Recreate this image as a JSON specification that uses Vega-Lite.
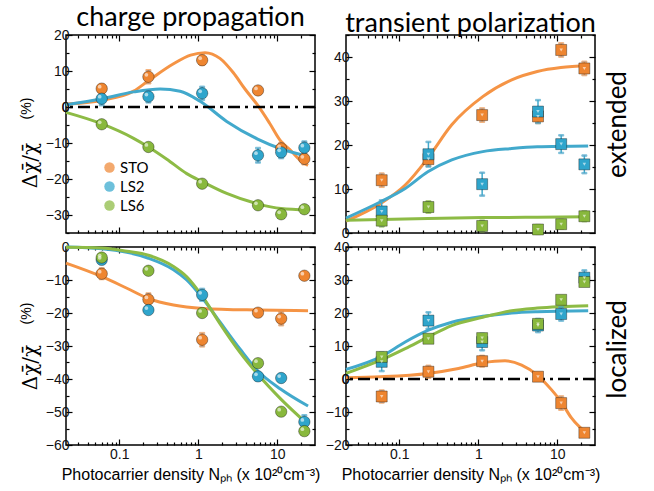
{
  "$schema": "https://vega.github.io/schema/vega-lite/v6.json",
  "background": "white",
  "padding": {"left": 18, "top": 3, "right": 5, "bottom": 3},
  "config": {
    "view": {"stroke": "black", "strokeWidth": 1.5},
    "axis": {"domain": false, "grid": false, "tickColor": "black", "tickWidth": 1.2, "labelFont": "Liberation Sans", "labelFontSize": 14, "labelColor": "#111", "labelPadding": 3, "titleColor": "black", "titleFontWeight": "normal", "labelOverlap": false, "labelFlush": false}
  },
  "datasets": {
    "zero": [{"y": 0}],
    "pts": [
      {"p": "a", "s": "STO", "x": 0.06, "y": 5.1, "e": 1.2},
      {"p": "a", "s": "STO", "x": 0.234, "y": 8.4, "e": 1.8},
      {"p": "a", "s": "STO", "x": 1.12, "y": 13.0, "e": 1.3},
      {"p": "a", "s": "STO", "x": 5.7, "y": 4.6, "e": 0.8},
      {"p": "a", "s": "STO", "x": 11.2, "y": -11.5, "e": 1.5},
      {"p": "a", "s": "STO", "x": 22, "y": -14.4, "e": 1.5},
      {"p": "a", "s": "LS2", "x": 0.06, "y": 2.3, "e": 1.8},
      {"p": "a", "s": "LS2", "x": 0.234, "y": 2.9, "e": 1.6},
      {"p": "a", "s": "LS2", "x": 1.12, "y": 3.8, "e": 1.8},
      {"p": "a", "s": "LS2", "x": 5.7, "y": -13.4, "e": 2.0},
      {"p": "a", "s": "LS2", "x": 11.2, "y": -12.6, "e": 1.6},
      {"p": "a", "s": "LS2", "x": 22, "y": -11.3, "e": 1.7},
      {"p": "a", "s": "LS6", "x": 0.06, "y": -4.8, "e": 0.6},
      {"p": "a", "s": "LS6", "x": 0.234, "y": -11.1, "e": 0.6},
      {"p": "a", "s": "LS6", "x": 1.12, "y": -21.3, "e": 0.6},
      {"p": "a", "s": "LS6", "x": 5.7, "y": -27.3, "e": 0.6},
      {"p": "a", "s": "LS6", "x": 11.2, "y": -29.8, "e": 0.6},
      {"p": "a", "s": "LS6", "x": 22, "y": -28.4, "e": 0.6},
      {"p": "b", "s": "STO", "x": 0.06, "y": 12.0, "e": 1.5},
      {"p": "b", "s": "STO", "x": 0.234, "y": 16.8, "e": 1.5},
      {"p": "b", "s": "STO", "x": 1.12, "y": 26.8, "e": 1.5},
      {"p": "b", "s": "STO", "x": 5.7, "y": 26.5, "e": 1.5},
      {"p": "b", "s": "STO", "x": 11.2, "y": 41.6, "e": 1.5},
      {"p": "b", "s": "STO", "x": 22, "y": 37.4, "e": 1.5},
      {"p": "b", "s": "LS2", "x": 0.06, "y": 4.9, "e": 2.5},
      {"p": "b", "s": "LS2", "x": 0.234, "y": 17.9, "e": 2.8},
      {"p": "b", "s": "LS2", "x": 1.12, "y": 11.1, "e": 2.6},
      {"p": "b", "s": "LS2", "x": 5.7, "y": 27.6, "e": 2.6},
      {"p": "b", "s": "LS2", "x": 11.2, "y": 20.2, "e": 2.0},
      {"p": "b", "s": "LS2", "x": 22, "y": 15.6, "e": 2.0},
      {"p": "b", "s": "LS6", "x": 0.06, "y": 2.8, "e": 1.3},
      {"p": "b", "s": "LS6", "x": 0.234, "y": 5.9, "e": 1.3},
      {"p": "b", "s": "LS6", "x": 1.12, "y": 1.6, "e": 1.2},
      {"p": "b", "s": "LS6", "x": 5.7, "y": 0.8, "e": 1.0},
      {"p": "b", "s": "LS6", "x": 11.2, "y": 2.0, "e": 1.0},
      {"p": "b", "s": "LS6", "x": 22, "y": 3.8, "e": 1.1},
      {"p": "c", "s": "STO", "x": 0.06, "y": -8.1, "e": 1.6},
      {"p": "c", "s": "STO", "x": 0.234, "y": -15.9, "e": 1.8},
      {"p": "c", "s": "STO", "x": 1.12, "y": -28.1, "e": 2.0},
      {"p": "c", "s": "STO", "x": 5.7, "y": -19.9, "e": 1.0},
      {"p": "c", "s": "STO", "x": 11.2, "y": -21.7, "e": 2.0},
      {"p": "c", "s": "STO", "x": 22, "y": -8.7, "e": 0.8},
      {"p": "c", "s": "LS2", "x": 0.06, "y": -3.9, "e": 1.0},
      {"p": "c", "s": "LS2", "x": 0.234, "y": -19.1, "e": 1.0},
      {"p": "c", "s": "LS2", "x": 1.12, "y": -14.5, "e": 1.8},
      {"p": "c", "s": "LS2", "x": 5.7, "y": -39.2, "e": 1.2},
      {"p": "c", "s": "LS2", "x": 11.2, "y": -39.7, "e": 1.2},
      {"p": "c", "s": "LS2", "x": 22, "y": -53.0, "e": 2.0},
      {"p": "c", "s": "LS6", "x": 0.06, "y": -3.2, "e": 0.5},
      {"p": "c", "s": "LS6", "x": 0.234, "y": -7.2, "e": 0.5},
      {"p": "c", "s": "LS6", "x": 1.12, "y": -20.0, "e": 0.5},
      {"p": "c", "s": "LS6", "x": 5.7, "y": -35.2, "e": 0.5},
      {"p": "c", "s": "LS6", "x": 11.2, "y": -49.9, "e": 0.5},
      {"p": "c", "s": "LS6", "x": 22, "y": -55.8, "e": 0.5},
      {"p": "d", "s": "STO", "x": 0.06, "y": -5.3, "e": 1.8},
      {"p": "d", "s": "STO", "x": 0.234, "y": 2.2, "e": 1.8},
      {"p": "d", "s": "STO", "x": 1.12, "y": 5.4, "e": 1.6},
      {"p": "d", "s": "STO", "x": 5.7, "y": 0.7, "e": 1.0},
      {"p": "d", "s": "STO", "x": 11.2, "y": -7.3, "e": 2.0},
      {"p": "d", "s": "STO", "x": 22, "y": -16.3, "e": 1.0},
      {"p": "d", "s": "LS2", "x": 0.06, "y": 5.2, "e": 2.8},
      {"p": "d", "s": "LS2", "x": 0.234, "y": 17.7, "e": 2.5},
      {"p": "d", "s": "LS2", "x": 1.12, "y": 11.2, "e": 2.5},
      {"p": "d", "s": "LS2", "x": 5.7, "y": 16.2, "e": 2.0},
      {"p": "d", "s": "LS2", "x": 11.2, "y": 19.7, "e": 2.0},
      {"p": "d", "s": "LS2", "x": 22, "y": 30.7, "e": 2.2},
      {"p": "d", "s": "LS6", "x": 0.06, "y": 6.7, "e": 1.0},
      {"p": "d", "s": "LS6", "x": 0.234, "y": 12.2, "e": 1.0},
      {"p": "d", "s": "LS6", "x": 1.12, "y": 12.4, "e": 1.0},
      {"p": "d", "s": "LS6", "x": 5.7, "y": 16.7, "e": 1.0},
      {"p": "d", "s": "LS6", "x": 11.2, "y": 24.0, "e": 1.0},
      {"p": "d", "s": "LS6", "x": 22, "y": 29.4, "e": 1.0}
    ],
    "fit": [
      {"p": "a", "s": "STO", "x": 0.0212, "y": 0.8},
      {"p": "a", "s": "STO", "x": 0.0604, "y": 1.9},
      {"p": "a", "s": "STO", "x": 0.152, "y": 4.4},
      {"p": "a", "s": "STO", "x": 0.234, "y": 7.3},
      {"p": "a", "s": "STO", "x": 0.486, "y": 12.0},
      {"p": "a", "s": "STO", "x": 0.8, "y": 14.4},
      {"p": "a", "s": "STO", "x": 1.22, "y": 15.1},
      {"p": "a", "s": "STO", "x": 1.88, "y": 13.5},
      {"p": "a", "s": "STO", "x": 2.78, "y": 9.5},
      {"p": "a", "s": "STO", "x": 3.9, "y": 5.0},
      {"p": "a", "s": "STO", "x": 5.64, "y": 0.5},
      {"p": "a", "s": "STO", "x": 8, "y": -4.5},
      {"p": "a", "s": "STO", "x": 11.1, "y": -9.5},
      {"p": "a", "s": "STO", "x": 14.4, "y": -11.8},
      {"p": "a", "s": "STO", "x": 20, "y": -15.0},
      {"p": "a", "s": "STO", "x": 24.5, "y": -16.2},
      {"p": "a", "s": "LS2", "x": 0.0212, "y": 0.65},
      {"p": "a", "s": "LS2", "x": 0.0604, "y": 2.3},
      {"p": "a", "s": "LS2", "x": 0.152, "y": 4.2},
      {"p": "a", "s": "LS2", "x": 0.33, "y": 5.0},
      {"p": "a", "s": "LS2", "x": 0.589, "y": 4.4},
      {"p": "a", "s": "LS2", "x": 1.054, "y": 1.6},
      {"p": "a", "s": "LS2", "x": 2.29, "y": -4.0},
      {"p": "a", "s": "LS2", "x": 5.64, "y": -8.9},
      {"p": "a", "s": "LS2", "x": 11.1, "y": -11.6},
      {"p": "a", "s": "LS2", "x": 24.5, "y": -13.7},
      {"p": "a", "s": "LS6", "x": 0.0212, "y": -1.5},
      {"p": "a", "s": "LS6", "x": 0.0604, "y": -4.7},
      {"p": "a", "s": "LS6", "x": 0.152, "y": -8.7},
      {"p": "a", "s": "LS6", "x": 0.234, "y": -11.1},
      {"p": "a", "s": "LS6", "x": 0.4, "y": -14.5},
      {"p": "a", "s": "LS6", "x": 0.715, "y": -18.5},
      {"p": "a", "s": "LS6", "x": 1.14, "y": -20.8},
      {"p": "a", "s": "LS6", "x": 2.29, "y": -24.0},
      {"p": "a", "s": "LS6", "x": 5.64, "y": -26.9},
      {"p": "a", "s": "LS6", "x": 11.1, "y": -28.2},
      {"p": "a", "s": "LS6", "x": 24.5, "y": -28.6},
      {"p": "b", "s": "STO", "x": 0.0212, "y": 2.7},
      {"p": "b", "s": "STO", "x": 0.0582, "y": 6.7},
      {"p": "b", "s": "STO", "x": 0.119, "y": 10.9},
      {"p": "b", "s": "STO", "x": 0.23, "y": 17.0},
      {"p": "b", "s": "STO", "x": 0.462, "y": 24.6},
      {"p": "b", "s": "STO", "x": 1.14, "y": 31.0},
      {"p": "b", "s": "STO", "x": 2.65, "y": 34.8},
      {"p": "b", "s": "STO", "x": 5.58, "y": 36.7},
      {"p": "b", "s": "STO", "x": 11.1, "y": 37.6},
      {"p": "b", "s": "STO", "x": 24.6, "y": 38.0},
      {"p": "b", "s": "LS2", "x": 0.0212, "y": 3.4},
      {"p": "b", "s": "LS2", "x": 0.0582, "y": 7.1},
      {"p": "b", "s": "LS2", "x": 0.119, "y": 10.1},
      {"p": "b", "s": "LS2", "x": 0.23, "y": 13.9},
      {"p": "b", "s": "LS2", "x": 0.462, "y": 16.6},
      {"p": "b", "s": "LS2", "x": 1.14, "y": 18.5},
      {"p": "b", "s": "LS2", "x": 2.65, "y": 19.2},
      {"p": "b", "s": "LS2", "x": 5.58, "y": 19.6},
      {"p": "b", "s": "LS2", "x": 24.6, "y": 19.8},
      {"p": "b", "s": "LS6", "x": 0.0212, "y": 2.9},
      {"p": "b", "s": "LS6", "x": 0.23, "y": 3.3},
      {"p": "b", "s": "LS6", "x": 1.14, "y": 3.5},
      {"p": "b", "s": "LS6", "x": 5.58, "y": 3.6},
      {"p": "b", "s": "LS6", "x": 24.6, "y": 3.7},
      {"p": "c", "s": "STO", "x": 0.0212, "y": -4.9},
      {"p": "c", "s": "STO", "x": 0.0604, "y": -9.0},
      {"p": "c", "s": "STO", "x": 0.125, "y": -12.5},
      {"p": "c", "s": "STO", "x": 0.234, "y": -15.6},
      {"p": "c", "s": "STO", "x": 0.486, "y": -17.6},
      {"p": "c", "s": "STO", "x": 1.14, "y": -18.6},
      {"p": "c", "s": "STO", "x": 5.64, "y": -19.1},
      {"p": "c", "s": "STO", "x": 24.5, "y": -19.3},
      {"p": "c", "s": "LS2", "x": 0.0212, "y": 0.0},
      {"p": "c", "s": "LS2", "x": 0.0604, "y": -0.5},
      {"p": "c", "s": "LS2", "x": 0.125, "y": -1.6},
      {"p": "c", "s": "LS2", "x": 0.234, "y": -3.4},
      {"p": "c", "s": "LS2", "x": 0.486, "y": -6.9},
      {"p": "c", "s": "LS2", "x": 0.715, "y": -10.0},
      {"p": "c", "s": "LS2", "x": 1.14, "y": -15.6},
      {"p": "c", "s": "LS2", "x": 1.88, "y": -22.7},
      {"p": "c", "s": "LS2", "x": 3.37, "y": -30.9},
      {"p": "c", "s": "LS2", "x": 5.64, "y": -37.5},
      {"p": "c", "s": "LS2", "x": 11.1, "y": -43.1},
      {"p": "c", "s": "LS2", "x": 24.5, "y": -48.2},
      {"p": "c", "s": "LS6", "x": 0.0212, "y": -0.1},
      {"p": "c", "s": "LS6", "x": 0.0604, "y": -0.3},
      {"p": "c", "s": "LS6", "x": 0.125, "y": -1.3},
      {"p": "c", "s": "LS6", "x": 0.234, "y": -2.5},
      {"p": "c", "s": "LS6", "x": 0.486, "y": -5.9},
      {"p": "c", "s": "LS6", "x": 0.715, "y": -9.0},
      {"p": "c", "s": "LS6", "x": 1.14, "y": -15.1},
      {"p": "c", "s": "LS6", "x": 1.88, "y": -23.2},
      {"p": "c", "s": "LS6", "x": 3.37, "y": -31.9},
      {"p": "c", "s": "LS6", "x": 5.64, "y": -38.5},
      {"p": "c", "s": "LS6", "x": 11.1, "y": -46.1},
      {"p": "c", "s": "LS6", "x": 24.5, "y": -53.8},
      {"p": "d", "s": "STO", "x": 0.0212, "y": 0.4},
      {"p": "d", "s": "STO", "x": 0.0582, "y": 0.7},
      {"p": "d", "s": "STO", "x": 0.23, "y": 1.7},
      {"p": "d", "s": "STO", "x": 0.562, "y": 3.2},
      {"p": "d", "s": "STO", "x": 1.14, "y": 4.9},
      {"p": "d", "s": "STO", "x": 2.18, "y": 5.5},
      {"p": "d", "s": "STO", "x": 3.54, "y": 4.2},
      {"p": "d", "s": "STO", "x": 5.58, "y": 1.2},
      {"p": "d", "s": "STO", "x": 8.47, "y": -3.3},
      {"p": "d", "s": "STO", "x": 11.1, "y": -6.8},
      {"p": "d", "s": "STO", "x": 15.1, "y": -11.8},
      {"p": "d", "s": "STO", "x": 24.6, "y": -16.8},
      {"p": "d", "s": "LS2", "x": 0.0212, "y": 2.9},
      {"p": "d", "s": "LS2", "x": 0.0582, "y": 6.7},
      {"p": "d", "s": "LS2", "x": 0.119, "y": 11.2},
      {"p": "d", "s": "LS2", "x": 0.23, "y": 14.7},
      {"p": "d", "s": "LS2", "x": 0.462, "y": 17.2},
      {"p": "d", "s": "LS2", "x": 1.14, "y": 19.0},
      {"p": "d", "s": "LS2", "x": 2.65, "y": 20.0},
      {"p": "d", "s": "LS2", "x": 5.58, "y": 20.4},
      {"p": "d", "s": "LS2", "x": 24.6, "y": 20.7},
      {"p": "d", "s": "LS6", "x": 0.0212, "y": 1.7},
      {"p": "d", "s": "LS6", "x": 0.0582, "y": 5.7},
      {"p": "d", "s": "LS6", "x": 0.119, "y": 9.2},
      {"p": "d", "s": "LS6", "x": 0.23, "y": 12.7},
      {"p": "d", "s": "LS6", "x": 0.462, "y": 16.2},
      {"p": "d", "s": "LS6", "x": 1.14, "y": 18.7},
      {"p": "d", "s": "LS6", "x": 2.65, "y": 20.7},
      {"p": "d", "s": "LS6", "x": 5.58, "y": 21.5},
      {"p": "d", "s": "LS6", "x": 24.6, "y": 22.2}
    ]
  },
  "columns": 2,
  "spacing": {"row": 14, "column": 31},
  "bounds": "flush",
  "resolve": {"scale": {"x": "independent", "y": "independent", "color": "independent", "stroke": "independent"}, "axis": {"x": "independent", "y": "independent"}, "legend": {"color": "independent", "stroke": "independent"}},
  "concat": [
    {
      "width": 249, "height": 198,
      "title": {"text": "charge propagation", "font": "Lato", "fontSize": 27, "fontWeight": "normal", "color": "black", "offset": -4},
      "resolve": {"axis": {"x": "independent", "y": "independent"}},
      "layer": [
        {"data": {"name": "fit"}, "transform": [{"filter": "datum.p == 'a'"}],
         "mark": {"type": "line", "strokeWidth": 3, "interpolate": "monotone"},
         "encoding": {
           "x": {"field": "x", "type": "quantitative", "scale": {"type": "log", "domain": [0.0212, 30], "nice": false},
                 "axis": {"orient": "bottom", "values": [0.1, 1, 10], "tickSize": -6, "labels": false, "title": null}},
           "y": {"field": "y", "type": "quantitative", "scale": {"domain": [-35, 20], "nice": false, "zero": false},
                 "axis": {"orient": "left", "values": [-30, -20, -10, 0, 10, 20], "tickSize": -6, "format": "d", "title": "Δχ̄/χ̄", "titleFont": "DejaVu Serif", "titleFontSize": 20, "titleAngle": 270, "titleX": -30, "titleY": 130, "titleAlign": "center", "titleBaseline": "alphabetic"}},
           "stroke": {"field": "s", "type": "nominal", "scale": {"domain": ["STO", "LS2", "LS6"], "range": ["#F59445", "#42A9CC", "#8DBB45"]},
                      "legend": {"orient": "none", "legendX": 36, "legendY": 125, "title": null, "labelFont": "Lato", "labelFontSize": 15, "labelColor": "black", "symbolSize": 110, "symbolType": "circle", "rowPadding": 3, "padding": 0, "labelOffset": 3, "symbolStrokeWidth": 0}}
         }},
        {"data": {"name": "zero"},
         "mark": {"type": "rule", "strokeDash": [12, 5, 3, 5], "strokeWidth": 2.5, "color": "black"},
         "encoding": {"y": {"field": "y", "type": "quantitative",
                            "axis": {"orient": "left", "values": [0], "tickSize": -6, "format": "d", "labelExpr": "'0'", "title": null, "zindex": 2}}}},
        {"data": {"name": "pts"}, "transform": [{"filter": "datum.p == 'a'"}],
         "mark": {"type": "errorbar", "ticks": {"size": 5}, "thickness": 1.5},
         "encoding": {
           "x": {"field": "x", "type": "quantitative", "axis": null},
           "y": {"field": "y", "type": "quantitative", "axis": null},
           "yError": {"field": "e"},
           "stroke": {"field": "s", "type": "nominal",
                      "legend": {"orient": "none", "legendX": 36, "legendY": 125, "title": null, "labelFont": "Lato", "labelFontSize": 15, "labelColor": "black", "symbolSize": 110, "symbolType": "circle", "rowPadding": 3, "padding": 0, "labelOffset": 3, "symbolStrokeWidth": 0}}
         }},
        {"data": {"name": "pts"}, "transform": [{"filter": "datum.p == 'a'"}],
         "mark": {"type": "circle", "size": 130, "opacity": 1, "stroke": "black", "strokeOpacity": 0.35, "strokeWidth": 1},
         "encoding": {
           "x": {"field": "x", "type": "quantitative",
                 "axis": {"orient": "top", "values": [0.03,0.04,0.05,0.06,0.07,0.08,0.09,0.1,0.2,0.3,0.4,0.5,0.6,0.7,0.8,0.9,1,2,3,4,5,6,7,8,9,10,20], "tickSize": {"condition": {"test": "indexof([0.1,1,10], datum.value) >= 0", "value": -6}, "value": -3}, "labels": false, "title": null}},
           "y": {"field": "y", "type": "quantitative",
                 "axis": {"orient": "right", "values": [-35,-30,-25,-20,-15,-10,-5,0,5,10,15,20], "tickSize": {"condition": {"test": "datum.value % 10 == 0", "value": -6}, "value": -3}, "labels": false, "title": null}},
           "color": {"field": "s", "type": "nominal", "scale": {"domain": ["STO", "LS2", "LS6"], "range": ["#EE8530", "#2FA5CC", "#88B83C"]},
                     "legend": {"orient": "none", "legendX": 36, "legendY": 125, "title": null, "labelFont": "Lato", "labelFontSize": 15, "labelColor": "black", "symbolSize": 110, "symbolType": "circle", "rowPadding": 3, "padding": 0, "labelOffset": 3, "symbolStrokeWidth": 0}}
         }},
        {"data": {"name": "pts"}, "transform": [{"filter": "datum.p == 'a'"}],
         "mark": {"type": "circle", "size": 14, "color": "white", "opacity": 0.6, "xOffset": -2, "yOffset": -2},
         "encoding": {
           "x": {"field": "x", "type": "quantitative",
                 "axis": {"orient": "bottom", "values": [0.03,0.04,0.05,0.06,0.07,0.08,0.09,0.2,0.3,0.4,0.5,0.6,0.7,0.8,0.9,2,3,4,5,6,7,8,9,20], "tickSize": -3, "labels": false, "title": null}},
           "y": {"field": "y", "type": "quantitative",
                 "axis": {"orient": "left", "values": [-35, -25, -15, -5, 5, 15], "tickSize": -3, "labels": false, "title": "(%)", "titleFont": "Liberation Sans", "titleFontSize": 14, "titleAngle": 270, "titleX": -36, "titleY": 73, "titleAlign": "center", "titleBaseline": "alphabetic"}}
         }}
      ]
    },
    {
      "width": 249, "height": 198,
      "title": {"text": "transient polarization", "font": "Lato", "fontSize": 27, "fontWeight": "normal", "color": "black", "offset": -4},
      "resolve": {"axis": {"x": "independent", "y": "independent"}},
      "layer": [
        {"data": {"name": "fit"}, "transform": [{"filter": "datum.p == 'b'"}],
         "mark": {"type": "line", "strokeWidth": 3, "interpolate": "monotone"},
         "encoding": {
           "x": {"field": "x", "type": "quantitative", "scale": {"type": "log", "domain": [0.0212, 30], "nice": false},
                 "axis": {"orient": "bottom", "values": [0.1, 1, 10], "tickSize": -6, "labels": false, "title": null}},
           "y": {"field": "y", "type": "quantitative", "scale": {"domain": [0, 45], "nice": false, "zero": false},
                 "axis": {"orient": "left", "values": [0, 10, 20, 30, 40], "tickSize": -6, "format": "d", "title": null}},
           "stroke": {"field": "s", "type": "nominal", "scale": {"domain": ["STO", "LS2", "LS6"], "range": ["#F59445", "#42A9CC", "#8DBB45"]}, "legend": null}
         }},
        {"data": {"name": "pts"}, "transform": [{"filter": "datum.p == 'b'"}],
         "mark": {"type": "errorbar", "ticks": {"size": 5}, "thickness": 1.5},
         "encoding": {
           "x": {"field": "x", "type": "quantitative", "axis": null},
           "y": {"field": "y", "type": "quantitative", "axis": null},
           "yError": {"field": "e"},
           "stroke": {"field": "s", "type": "nominal", "legend": null}
         }},
        {"data": {"name": "pts"}, "transform": [{"filter": "datum.p == 'b'"}],
         "mark": {"type": "point", "shape": "square", "filled": true, "size": 121, "opacity": 1, "stroke": "black", "strokeOpacity": 0.35, "strokeWidth": 1},
         "encoding": {
           "x": {"field": "x", "type": "quantitative",
                 "axis": {"orient": "top", "values": [0.03,0.04,0.05,0.06,0.07,0.08,0.09,0.1,0.2,0.3,0.4,0.5,0.6,0.7,0.8,0.9,1,2,3,4,5,6,7,8,9,10,20], "tickSize": {"condition": {"test": "indexof([0.1,1,10], datum.value) >= 0", "value": -6}, "value": -3}, "labels": false, "title": null}},
           "y": {"field": "y", "type": "quantitative",
                 "axis": {"orient": "right", "values": [0,5,10,15,20,25,30,35,40,45], "tickSize": {"condition": {"test": "datum.value % 10 == 0", "value": -6}, "value": -3}, "labels": false, "title": "extended", "titleFont": "Lato", "titleFontSize": 26, "titleAngle": 270, "titleX": 30, "titleY": 89, "titleAlign": "center", "titleBaseline": "alphabetic"}},
           "color": {"field": "s", "type": "nominal", "scale": {"domain": ["STO", "LS2", "LS6"], "range": ["#EE8530", "#2FA5CC", "#88B83C"]}, "legend": null}
         }},
        {"data": {"name": "pts"}, "transform": [{"filter": "datum.p == 'b'"}],
         "mark": {"type": "point", "shape": "triangle-down", "filled": true, "size": 12, "color": "white", "opacity": 0.6},
         "encoding": {
           "x": {"field": "x", "type": "quantitative",
                 "axis": {"orient": "bottom", "values": [0.03,0.04,0.05,0.06,0.07,0.08,0.09,0.2,0.3,0.4,0.5,0.6,0.7,0.8,0.9,2,3,4,5,6,7,8,9,20], "tickSize": -3, "labels": false, "title": null}},
           "y": {"field": "y", "type": "quantitative",
                 "axis": {"orient": "left", "values": [5, 15, 25, 35, 45], "tickSize": -3, "labels": false, "title": null}}
         }}
      ]
    },
    {
      "width": 249, "height": 198,
      "resolve": {"axis": {"x": "independent", "y": "independent"}},
      "layer": [
        {"data": {"name": "fit"}, "transform": [{"filter": "datum.p == 'c'"}],
         "mark": {"type": "line", "strokeWidth": 3, "interpolate": "monotone"},
         "encoding": {
           "x": {"field": "x", "type": "quantitative", "scale": {"type": "log", "domain": [0.0212, 30], "nice": false},
                 "axis": {"orient": "bottom", "values": [0.1, 1, 10], "tickSize": -6, "format": "~g", "labelPadding": 8, "title": "Photocarrier density Nₚₕ (x 10²⁰cm⁻³)", "titleFont": "Liberation Sans", "titleFontSize": 16, "titlePadding": 5}},
           "y": {"field": "y", "type": "quantitative", "scale": {"domain": [-60, 0], "nice": false, "zero": false},
                 "axis": {"orient": "left", "values": [-60, -50, -40, -30, -20, -10, 0], "tickSize": -6, "format": "d", "title": "Δχ̄/χ̄", "titleFont": "DejaVu Serif", "titleFontSize": 20, "titleAngle": 270, "titleX": -30, "titleY": 120, "titleAlign": "center", "titleBaseline": "alphabetic"}},
           "stroke": {"field": "s", "type": "nominal", "scale": {"domain": ["STO", "LS2", "LS6"], "range": ["#F59445", "#42A9CC", "#8DBB45"]}, "legend": null}
         }},
        {"data": {"name": "pts"}, "transform": [{"filter": "datum.p == 'c'"}],
         "mark": {"type": "errorbar", "ticks": {"size": 5}, "thickness": 1.5},
         "encoding": {
           "x": {"field": "x", "type": "quantitative", "axis": null},
           "y": {"field": "y", "type": "quantitative", "axis": null},
           "yError": {"field": "e"},
           "stroke": {"field": "s", "type": "nominal", "legend": null}
         }},
        {"data": {"name": "pts"}, "transform": [{"filter": "datum.p == 'c'"}],
         "mark": {"type": "circle", "size": 130, "opacity": 1, "stroke": "black", "strokeOpacity": 0.35, "strokeWidth": 1},
         "encoding": {
           "x": {"field": "x", "type": "quantitative",
                 "axis": {"orient": "top", "values": [0.03,0.04,0.05,0.06,0.07,0.08,0.09,0.1,0.2,0.3,0.4,0.5,0.6,0.7,0.8,0.9,1,2,3,4,5,6,7,8,9,10,20], "tickSize": {"condition": {"test": "indexof([0.1,1,10], datum.value) >= 0", "value": -6}, "value": -3}, "labels": false, "title": null}},
           "y": {"field": "y", "type": "quantitative",
                 "axis": {"orient": "right", "values": [-60,-55,-50,-45,-40,-35,-30,-25,-20,-15,-10,-5,0], "tickSize": {"condition": {"test": "datum.value % 10 == 0", "value": -6}, "value": -3}, "labels": false, "title": null}},
           "color": {"field": "s", "type": "nominal", "scale": {"domain": ["STO", "LS2", "LS6"], "range": ["#EE8530", "#2FA5CC", "#88B83C"]}, "legend": null}
         }},
        {"data": {"name": "pts"}, "transform": [{"filter": "datum.p == 'c'"}],
         "mark": {"type": "circle", "size": 14, "color": "white", "opacity": 0.6, "xOffset": -2, "yOffset": -2},
         "encoding": {
           "x": {"field": "x", "type": "quantitative",
                 "axis": {"orient": "bottom", "values": [0.03,0.04,0.05,0.06,0.07,0.08,0.09,0.2,0.3,0.4,0.5,0.6,0.7,0.8,0.9,2,3,4,5,6,7,8,9,20], "tickSize": -3, "labels": false, "title": null}},
           "y": {"field": "y", "type": "quantitative",
                 "axis": {"orient": "left", "values": [-55, -45, -35, -25, -15, -5], "tickSize": -3, "labels": false, "title": "(%)", "titleFont": "Liberation Sans", "titleFontSize": 14, "titleAngle": 270, "titleX": -36, "titleY": 66, "titleAlign": "center", "titleBaseline": "alphabetic"}}
         }}
      ]
    },
    {
      "width": 249, "height": 198,
      "resolve": {"axis": {"x": "independent", "y": "independent"}},
      "layer": [
        {"data": {"name": "fit"}, "transform": [{"filter": "datum.p == 'd'"}],
         "mark": {"type": "line", "strokeWidth": 3, "interpolate": "monotone"},
         "encoding": {
           "x": {"field": "x", "type": "quantitative", "scale": {"type": "log", "domain": [0.0212, 30], "nice": false},
                 "axis": {"orient": "bottom", "values": [0.1, 1, 10], "tickSize": -6, "format": "~g", "labelPadding": 8, "title": "Photocarrier density Nₚₕ (x 10²⁰cm⁻³)", "titleFont": "Liberation Sans", "titleFontSize": 16, "titlePadding": 5}},
           "y": {"field": "y", "type": "quantitative", "scale": {"domain": [-20, 40], "nice": false, "zero": false},
                 "axis": {"orient": "left", "values": [-20, -10, 0, 10, 20, 30, 40], "tickSize": -6, "format": "d", "title": null}},
           "stroke": {"field": "s", "type": "nominal", "scale": {"domain": ["STO", "LS2", "LS6"], "range": ["#F59445", "#42A9CC", "#8DBB45"]}, "legend": null}
         }},
        {"data": {"name": "zero"},
         "mark": {"type": "rule", "strokeDash": [12, 5, 3, 5], "strokeWidth": 2.5, "color": "black"},
         "encoding": {"y": {"field": "y", "type": "quantitative",
                            "axis": {"orient": "left", "values": [0], "tickSize": -6, "format": "d", "labelExpr": "'0'", "title": null, "zindex": 2}}}},
        {"data": {"name": "pts"}, "transform": [{"filter": "datum.p == 'd'"}],
         "mark": {"type": "errorbar", "ticks": {"size": 5}, "thickness": 1.5},
         "encoding": {
           "x": {"field": "x", "type": "quantitative", "axis": null},
           "y": {"field": "y", "type": "quantitative", "axis": null},
           "yError": {"field": "e"},
           "stroke": {"field": "s", "type": "nominal", "legend": null}
         }},
        {"data": {"name": "pts"}, "transform": [{"filter": "datum.p == 'd'"}],
         "mark": {"type": "point", "shape": "square", "filled": true, "size": 121, "opacity": 1, "stroke": "black", "strokeOpacity": 0.35, "strokeWidth": 1},
         "encoding": {
           "x": {"field": "x", "type": "quantitative",
                 "axis": {"orient": "top", "values": [0.03,0.04,0.05,0.06,0.07,0.08,0.09,0.1,0.2,0.3,0.4,0.5,0.6,0.7,0.8,0.9,1,2,3,4,5,6,7,8,9,10,20], "tickSize": {"condition": {"test": "indexof([0.1,1,10], datum.value) >= 0", "value": -6}, "value": -3}, "labels": false, "title": null}},
           "y": {"field": "y", "type": "quantitative",
                 "axis": {"orient": "right", "values": [-20,-15,-10,-5,0,5,10,15,20,25,30,35,40], "tickSize": {"condition": {"test": "datum.value % 10 == 0", "value": -6}, "value": -3}, "labels": false, "title": "localized", "titleFont": "Lato", "titleFontSize": 26, "titleAngle": 270, "titleX": 30, "titleY": 102, "titleAlign": "center", "titleBaseline": "alphabetic"}},
           "color": {"field": "s", "type": "nominal", "scale": {"domain": ["STO", "LS2", "LS6"], "range": ["#EE8530", "#2FA5CC", "#88B83C"]}, "legend": null}
         }},
        {"data": {"name": "pts"}, "transform": [{"filter": "datum.p == 'd'"}],
         "mark": {"type": "point", "shape": "triangle-down", "filled": true, "size": 12, "color": "white", "opacity": 0.6},
         "encoding": {
           "x": {"field": "x", "type": "quantitative",
                 "axis": {"orient": "bottom", "values": [0.03,0.04,0.05,0.06,0.07,0.08,0.09,0.2,0.3,0.4,0.5,0.6,0.7,0.8,0.9,2,3,4,5,6,7,8,9,20], "tickSize": -3, "labels": false, "title": null}},
           "y": {"field": "y", "type": "quantitative",
                 "axis": {"orient": "left", "values": [-15, -5, 5, 15, 25, 35], "tickSize": -3, "labels": false, "title": null}}
         }}
      ]
    }
  ]
}
